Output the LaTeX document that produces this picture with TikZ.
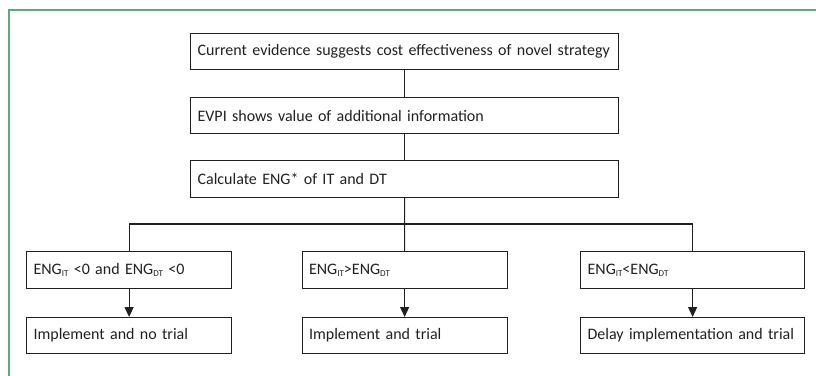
\documentclass[tikz,border=0pt]{standalone}
\usepackage{fontspec}
\setmainfont{Carlito}
\usetikzlibrary{arrows.meta}
\definecolor{framegreen}{HTML}{5DA882}
\definecolor{ink}{HTML}{231F20}
\newcommand\boxfont{\fontsize{16bp}{18bp}\selectfont}
\newcommand\subtx[1]{\raisebox{-0.25ex}{\fontsize{9bp}{10bp}\selectfont #1}}
\tikzset{
  flowbox/.style={draw=ink, line width=1.2bp, text=ink, rectangle, anchor=north west,
    inner xsep=7bp, inner ysep=0pt, align=left, font=\boxfont},
  link/.style={draw=ink, line width=1.2bp},
  arrowlink/.style={link, -{Triangle[width=9bp,length=10bp]}},
}
\begin{document}
\begin{tikzpicture}[x=1bp,y=-1bp]
\useasboundingbox (0,0) rectangle (816,375);
\draw[framegreen, line width=1.6bp] (9,380) -- (9,10) -- (820,10);
\node[flowbox, minimum width=428bp, minimum height=36bp, text width=414bp] (b1) at (190,33)
  {Current evidence suggests cost effectiveness of novel strategy};
\node[flowbox, minimum width=428bp, minimum height=36bp, text width=414bp] (b2) at (190,97)
  {EVPI shows value of additional information};
\node[flowbox, minimum width=428bp, minimum height=37bp, text width=414bp] (b3) at (190,160)
  {Calculate ENG* of IT and DT};
\node[flowbox, minimum width=205bp, minimum height=37bp, text width=191bp] (l1) at (26,251)
  {ENG\subtx{IT} <0 and ENG\subtx{DT} <0};
\node[flowbox, minimum width=205bp, minimum height=37bp, text width=191bp] (m1) at (301.5,251)
  {ENG\subtx{IT}>ENG\subtx{DT}};
\node[flowbox, minimum width=224bp, minimum height=37bp, text width=210bp] (r1) at (580,251)
  {ENG\subtx{IT}<ENG\subtx{DT}};
\node[flowbox, minimum width=205bp, minimum height=36bp, text width=191bp] (l2) at (26,317)
  {Implement and no trial};
\node[flowbox, minimum width=205bp, minimum height=36bp, text width=191bp] (m2) at (301.5,317)
  {Implement and trial};
\node[flowbox, minimum width=224bp, minimum height=36bp, text width=210bp] (r2) at (580,317)
  {Delay implementation and trial};
\coordinate (bus) at (404,224);
\draw[link] (b1.south) -- (b2.north);
\draw[link] (b2.south) -- (b3.north);
\draw[link] (b3.south) -- (m1.north);
\draw[link] (l1.north) -- (l1.north |- bus) -- (r1.north |- bus) -- (r1.north);
\draw[arrowlink] (l1.south) -- (l2.north);
\draw[arrowlink] (m1.south) -- (m2.north);
\draw[arrowlink] (r1.south) -- (r2.north);
\end{tikzpicture}
\end{document}
